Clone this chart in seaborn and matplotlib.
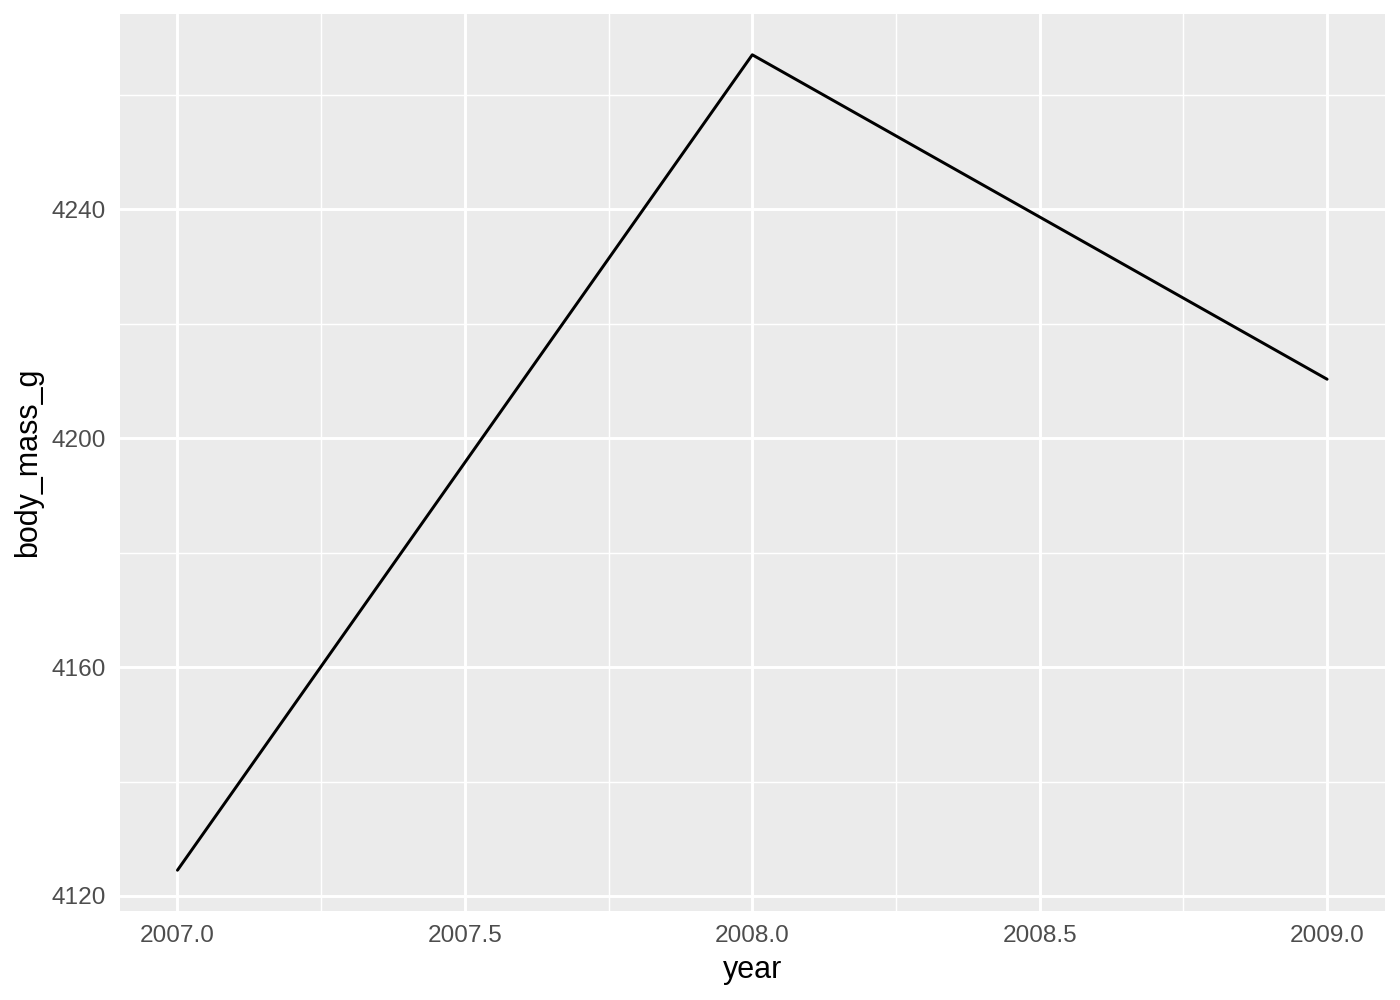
import matplotlib
matplotlib.use("Agg")
import matplotlib.pyplot as plt
import matplotlib.ticker as mticker
import pandas as pd
import seaborn as sns

# mean body mass per year
years = [2007, 2008, 2009]
body_mass = [4124.5, 4267.0, 4210.3]

df = pd.DataFrame({"year": years, "body_mass_g": body_mass})

sns.set_style("darkgrid", {"axes.facecolor": "#EBEBEB", "grid.color": "white"})
plt.rcParams["font.family"] = ["Liberation Sans", "DejaVu Sans"]

fig = plt.figure(figsize=(7, 5), dpi=200)
ax = fig.add_axes([0.0857, 0.089, 0.9033, 0.897])

sns.lineplot(data=df, x="year", y="body_mass_g", color="black", linewidth=1.07, ax=ax)

# ggplot-like expansion of 5%
xr = max(years) - min(years)
yr = max(body_mass) - min(body_mass)
ax.set_xlim(min(years) - 0.05 * xr, max(years) + 0.05 * xr)
ax.set_ylim(min(body_mass) - 0.05 * yr, max(body_mass) + 0.05 * yr)

ax.xaxis.set_major_locator(mticker.MultipleLocator(0.5))
ax.xaxis.set_minor_locator(mticker.MultipleLocator(0.25))
ax.xaxis.set_major_formatter(mticker.FormatStrFormatter("%.1f"))
ax.yaxis.set_major_locator(mticker.MultipleLocator(40))
ax.yaxis.set_minor_locator(mticker.MultipleLocator(20))

ax.grid(which="major", color="white", linewidth=1.07)
ax.grid(which="minor", color="white", linewidth=0.53)
ax.set_axisbelow(True)
for s in ax.spines.values():
    s.set_visible(False)

ax.tick_params(which="major", length=2.75, width=1.07, color="#333333",
               labelcolor="#4D4D4D", labelsize=8.8, pad=2.2)
ax.tick_params(which="minor", length=0)
ax.set_xlabel("year", fontsize=11, color="black", labelpad=3)
ax.set_ylabel("body_mass_g", fontsize=11, color="black", labelpad=3)

fig.savefig("out.png", dpi=200, facecolor="white")
